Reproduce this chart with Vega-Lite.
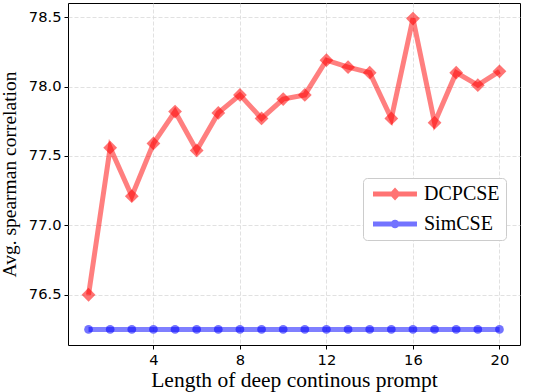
{
  "$schema": "https://vega.github.io/schema/vega-lite/v6.json",
  "width": 452,
  "height": 342,
  "autosize": {"type": "none"},
  "padding": {"left": 68, "top": 3, "right": 22, "bottom": 47},
  "background": "white",
  "config": {
    "view": {"stroke": "black", "strokeWidth": 1},
    "axis": {
      "domain": false,
      "grid": true,
      "gridColor": "#d9d9d9",
      "gridDash": [4, 2],
      "gridWidth": 0.8,
      "tickColor": "black",
      "tickSize": 4,
      "tickWidth": 1,
      "labelFont": "DejaVu Sans",
      "labelFontSize": 14.7,
      "labelColor": "black",
      "titleFont": "Liberation Serif",
      "titleFontWeight": "normal",
      "titleColor": "black"
    }
  },
  "data": {
    "values": [
      {"x": 1, "y": 76.5, "series": "DCPCSE"},
      {"x": 2, "y": 77.56, "series": "DCPCSE"},
      {"x": 3, "y": 77.21, "series": "DCPCSE"},
      {"x": 4, "y": 77.59, "series": "DCPCSE"},
      {"x": 5, "y": 77.82, "series": "DCPCSE"},
      {"x": 6, "y": 77.54, "series": "DCPCSE"},
      {"x": 7, "y": 77.81, "series": "DCPCSE"},
      {"x": 8, "y": 77.94, "series": "DCPCSE"},
      {"x": 9, "y": 77.77, "series": "DCPCSE"},
      {"x": 10, "y": 77.91, "series": "DCPCSE"},
      {"x": 11, "y": 77.94, "series": "DCPCSE"},
      {"x": 12, "y": 78.19, "series": "DCPCSE"},
      {"x": 13, "y": 78.14, "series": "DCPCSE"},
      {"x": 14, "y": 78.1, "series": "DCPCSE"},
      {"x": 15, "y": 77.77, "series": "DCPCSE"},
      {"x": 16, "y": 78.49, "series": "DCPCSE"},
      {"x": 17, "y": 77.74, "series": "DCPCSE"},
      {"x": 18, "y": 78.1, "series": "DCPCSE"},
      {"x": 19, "y": 78.01, "series": "DCPCSE"},
      {"x": 20, "y": 78.11, "series": "DCPCSE"},
      {"x": 1, "y": 76.25, "series": "SimCSE"},
      {"x": 2, "y": 76.25, "series": "SimCSE"},
      {"x": 3, "y": 76.25, "series": "SimCSE"},
      {"x": 4, "y": 76.25, "series": "SimCSE"},
      {"x": 5, "y": 76.25, "series": "SimCSE"},
      {"x": 6, "y": 76.25, "series": "SimCSE"},
      {"x": 7, "y": 76.25, "series": "SimCSE"},
      {"x": 8, "y": 76.25, "series": "SimCSE"},
      {"x": 9, "y": 76.25, "series": "SimCSE"},
      {"x": 10, "y": 76.25, "series": "SimCSE"},
      {"x": 11, "y": 76.25, "series": "SimCSE"},
      {"x": 12, "y": 76.25, "series": "SimCSE"},
      {"x": 13, "y": 76.25, "series": "SimCSE"},
      {"x": 14, "y": 76.25, "series": "SimCSE"},
      {"x": 15, "y": 76.25, "series": "SimCSE"},
      {"x": 16, "y": 76.25, "series": "SimCSE"},
      {"x": 17, "y": 76.25, "series": "SimCSE"},
      {"x": 18, "y": 76.25, "series": "SimCSE"},
      {"x": 19, "y": 76.25, "series": "SimCSE"},
      {"x": 20, "y": 76.25, "series": "SimCSE"}
    ]
  },
  "encoding": {
    "x": {
      "field": "x",
      "type": "quantitative",
      "scale": {"domain": [0.05, 20.95], "nice": false, "zero": false},
      "axis": {"values": [4, 8, 12, 16, 20], "title": "Length of deep continous prompt", "titleFontSize": 21.5, "titlePadding": 3, "labelPadding": 3}
    },
    "y": {
      "field": "y",
      "type": "quantitative",
      "scale": {"domain": [76.138, 78.602], "nice": false, "zero": false},
      "axis": {"values": [76.5, 77.0, 77.5, 78.0, 78.5], "format": ".1f", "title": "Avg. spearman correlation", "titleFontSize": 19.5, "titlePadding": 9, "labelPadding": 3}
    },
    "color": {
      "field": "series",
      "type": "nominal",
      "scale": {"domain": ["DCPCSE", "SimCSE"], "range": ["#ff0000", "#0000ff"]},
      "legend": {
        "title": null,
        "orient": "none",
        "legendX": 295,
        "legendY": 175,
        "padding": 6,
        "fillColor": "white",
        "strokeColor": "#cccccc",
        "cornerRadius": 4,
        "symbolSize": 144,
        "symbolStrokeWidth": 0,
        "symbolOpacity": 1,
        "labelFont": "Liberation Serif",
        "labelFontSize": 20,
        "labelColor": "black",
        "labelOffset": 35,
        "rowPadding": 10,
        "encode": {
          "symbols": {
            "update": {
              "shape": {"signal": "datum.value === 'DCPCSE' ? 'M-1,-0.42H6.33V0.42H-1Z M1.67,0L2.67,-1.1L3.67,0L2.67,1.1Z' : 'M-1,-0.42H6.33V0.42H-1Z M1.95,0A0.72,0.72 0 1,1 3.39,0A0.72,0.72 0 1,1 1.95,0Z'"},
              "fillOpacity": {"value": 0.55},
              "strokeWidth": {"value": 0},
              "opacity": {"value": 1}
            }
          }
        }
      }
    }
  },
  "layer": [
    {
      "mark": {"type": "line", "strokeWidth": 5, "opacity": 0.5}
    },
    {
      "transform": [{"filter": "datum.series === 'DCPCSE'"}],
      "mark": {"type": "point", "filled": true, "opacity": 0.55, "shape": "diamond", "size": 190}
    },
    {
      "transform": [{"filter": "datum.series === 'SimCSE'"}],
      "mark": {"type": "point", "filled": true, "opacity": 0.55, "shape": "circle", "size": 76}
    }
  ]
}
